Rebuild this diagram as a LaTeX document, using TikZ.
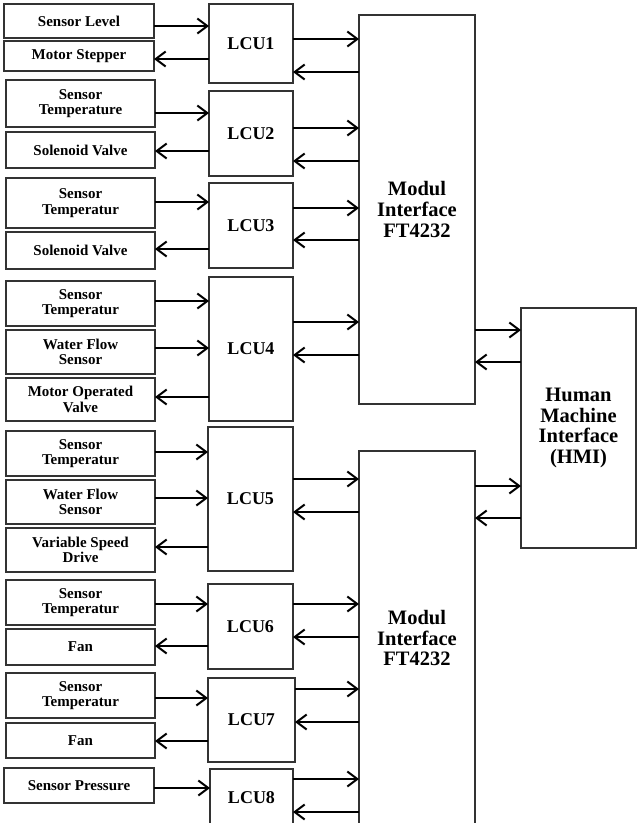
\documentclass[tikz,border=0pt]{standalone}
\usepackage{fontspec}
\setmainfont{Liberation Serif}
\usetikzlibrary{arrows.meta}
\newcommand\mybox[7]{%
  \pgfmathsetmacro\myW{#4-#2}\pgfmathsetmacro\myH{#5-#3}%
  \node[#6, minimum width=\myW pt, minimum height=\myH pt] (#1) at (#2,#3) {#7};}
\begin{document}
\begin{tikzpicture}[x=1pt,y=-1pt,
  box/.style={draw=black!80, line width=1.1pt, anchor=north west, inner sep=0pt,
    outer sep=0pt, align=center, font=\bfseries\fontsize{15}{15.5}\selectfont},
  lcu/.style={box, font=\bfseries\fontsize{18}{20}\selectfont},
  big/.style={box, font=\bfseries\fontsize{20.5}{20.8}\selectfont},
  arr/.style={line width=2pt, -{Straight Barb[length=10pt,width=15pt,line width=2pt]}}]
\useasboundingbox (0,0) rectangle (637,823);
\clip (0,0) rectangle (637,823);
% left boxes
\mybox{sl}{4}{4}{154}{38}{box}{Sensor Level}
\mybox{ms}{4}{41}{154}{71}{box}{Motor Stepper}
\mybox{sta}{6}{80}{155}{127}{box}{Sensor\\Temperature}
\mybox{sva}{6}{132}{155}{168}{box}{Solenoid Valve}
\mybox{stb}{6}{178}{155}{228}{box}{Sensor\\Temperatur}
\mybox{svb}{6}{232}{155}{269}{box}{Solenoid Valve}
\mybox{stc}{6}{281}{155}{326}{box}{Sensor\\Temperatur}
\mybox{wfc}{6}{330}{155}{374}{box}{Water Flow\\Sensor}
\mybox{mov}{6}{378}{155}{421}{box}{Motor Operated\\Valve}
\mybox{std}{6}{431}{155}{476}{box}{Sensor\\Temperatur}
\mybox{wfd}{6}{480}{155}{524}{box}{Water Flow\\Sensor}
\mybox{vsd}{6}{528}{155}{572}{box}{Variable Speed\\Drive}
\mybox{ste}{6}{580}{155}{625}{box}{Sensor\\Temperatur}
\mybox{fane}{6}{629}{155}{665}{box}{Fan}
\mybox{stf}{6}{673}{155}{718}{box}{Sensor\\Temperatur}
\mybox{fanf}{6}{723}{155}{758}{box}{Fan}
\mybox{sp}{4}{768}{154}{803}{box}{Sensor Pressure}
% LCUs
\mybox{lcu1}{209}{4}{293}{83}{lcu}{LCU1}
\mybox{lcu2}{209}{91}{293}{176}{lcu}{LCU2}
\mybox{lcu3}{209}{183}{293}{268}{lcu}{LCU3}
\mybox{lcu4}{209}{277}{293}{421}{lcu}{LCU4}
\mybox{lcu5}{208}{427}{293}{571}{lcu}{LCU5}
\mybox{lcu6}{208}{584}{293}{669}{lcu}{LCU6}
\mybox{lcu7}{208}{678}{295}{762}{lcu}{LCU7}
\mybox{lcu8}{210}{769}{293}{826}{lcu}{LCU8}
% interfaces
\mybox{m1}{359}{15}{475}{404}{big}{Modul\\Interface\\FT4232}
\mybox{m2}{359}{451}{475}{825}{big}{Modul\\Interface\\FT4232}
\mybox{hmi}{521}{308}{636}{548}{big}{Human\\Machine\\Interface\\(HMI)}
% left connectors
\draw[arr] (sl.east |- 0,26) -- (lcu1.west |- 0,26);
\draw[arr] (lcu1.west |- 0,59) -- (ms.east |- 0,59);
\draw[arr] (sta.east |- 0,113) -- (lcu2.west |- 0,113);
\draw[arr] (lcu2.west |- 0,151) -- (sva.east |- 0,151);
\draw[arr] (stb.east |- 0,202) -- (lcu3.west |- 0,202);
\draw[arr] (lcu3.west |- 0,249) -- (svb.east |- 0,249);
\draw[arr] (stc.east |- 0,301) -- (lcu4.west |- 0,301);
\draw[arr] (wfc.east |- 0,348) -- (lcu4.west |- 0,348);
\draw[arr] (lcu4.west |- 0,397) -- (mov.east |- 0,397);
\draw[arr] (std.east |- 0,452) -- (lcu5.west |- 0,452);
\draw[arr] (wfd.east |- 0,498) -- (lcu5.west |- 0,498);
\draw[arr] (lcu5.west |- 0,547) -- (vsd.east |- 0,547);
\draw[arr] (ste.east |- 0,604) -- (lcu6.west |- 0,604);
\draw[arr] (lcu6.west |- 0,646) -- (fane.east |- 0,646);
\draw[arr] (stf.east |- 0,698) -- (lcu7.west |- 0,698);
\draw[arr] (lcu7.west |- 0,741) -- (fanf.east |- 0,741);
\draw[arr] (sp.east |- 0,788) -- (lcu8.west |- 0,788);
% LCU to interface
\draw[arr] (lcu1.east |- 0,39) -- (m1.west |- 0,39);
\draw[arr] (m1.west |- 0,72) -- (lcu1.east |- 0,72);
\draw[arr] (lcu2.east |- 0,128) -- (m1.west |- 0,128);
\draw[arr] (m1.west |- 0,161) -- (lcu2.east |- 0,161);
\draw[arr] (lcu3.east |- 0,208) -- (m1.west |- 0,208);
\draw[arr] (m1.west |- 0,240) -- (lcu3.east |- 0,240);
\draw[arr] (lcu4.east |- 0,322) -- (m1.west |- 0,322);
\draw[arr] (m1.west |- 0,355) -- (lcu4.east |- 0,355);
\draw[arr] (lcu5.east |- 0,479) -- (m2.west |- 0,479);
\draw[arr] (m2.west |- 0,512) -- (lcu5.east |- 0,512);
\draw[arr] (lcu6.east |- 0,604) -- (m2.west |- 0,604);
\draw[arr] (m2.west |- 0,637) -- (lcu6.east |- 0,637);
\draw[arr] (lcu7.east |- 0,689) -- (m2.west |- 0,689);
\draw[arr] (m2.west |- 0,722) -- (lcu7.east |- 0,722);
\draw[arr] (lcu8.east |- 0,779) -- (m2.west |- 0,779);
\draw[arr] (m2.west |- 0,812) -- (lcu8.east |- 0,812);
% interface to HMI
\draw[arr] (m1.east |- 0,330) -- (hmi.west |- 0,330);
\draw[arr] (hmi.west |- 0,362) -- (m1.east |- 0,362);
\draw[arr] (m2.east |- 0,486) -- (hmi.west |- 0,486);
\draw[arr] (hmi.west |- 0,518) -- (m2.east |- 0,518);
\end{tikzpicture}
\end{document}
